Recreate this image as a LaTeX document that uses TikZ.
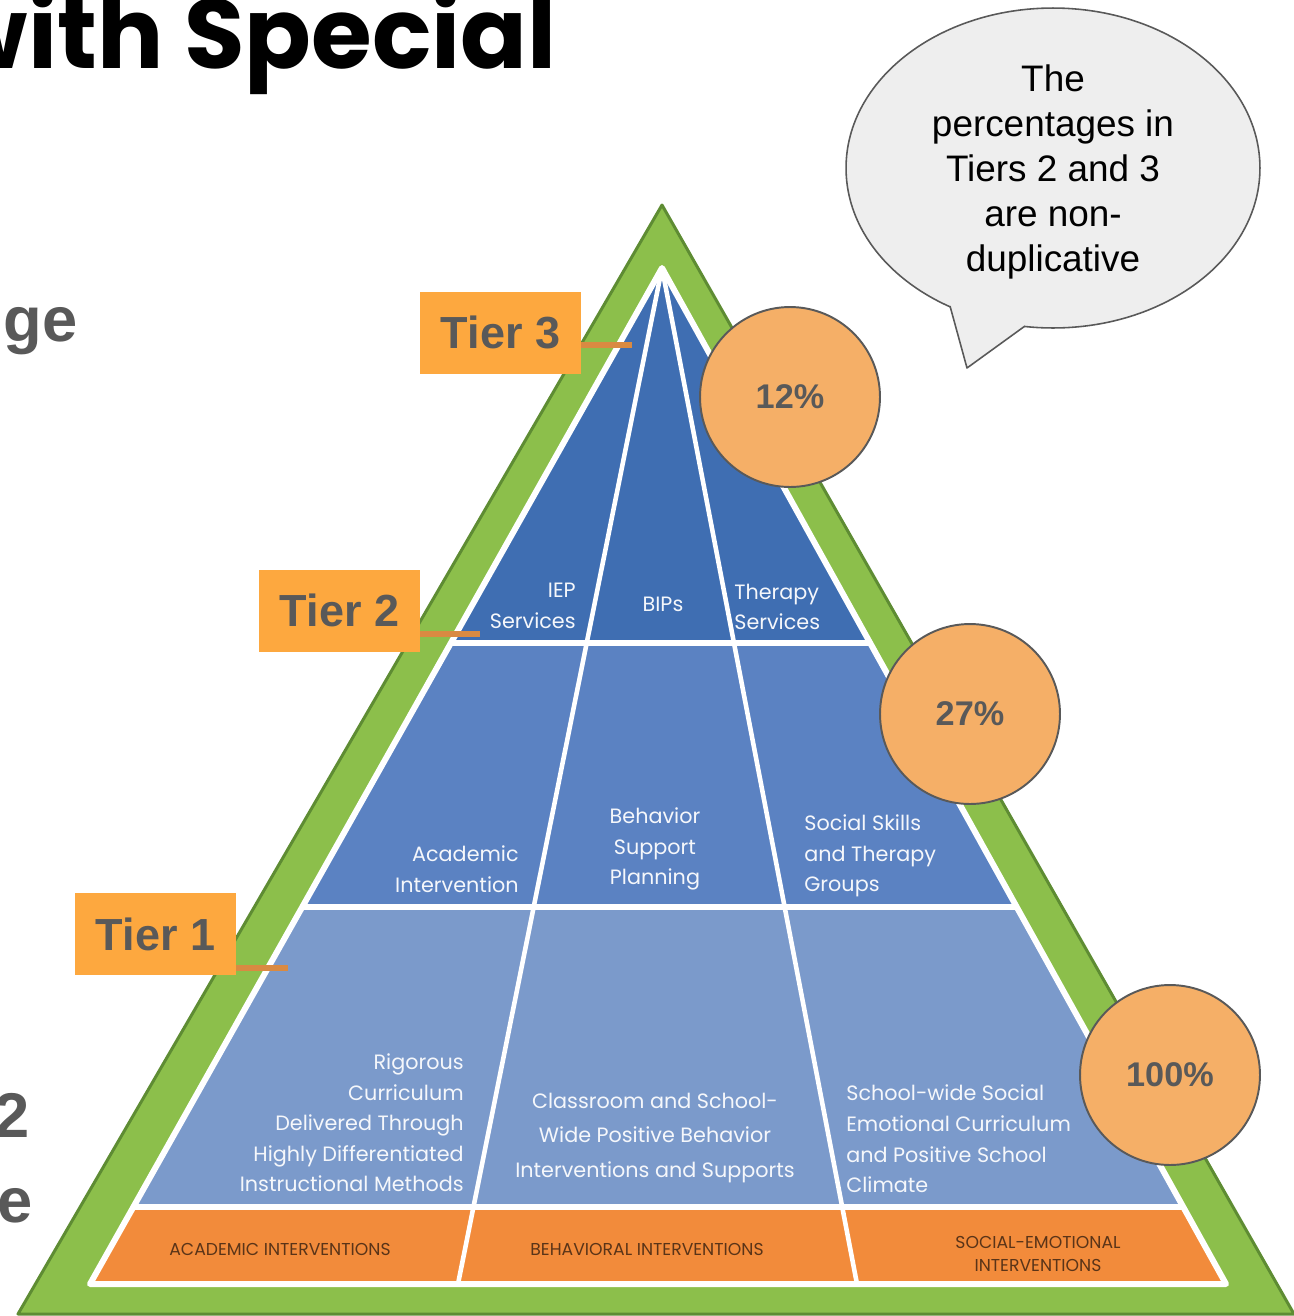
\documentclass[tikz,border=0pt]{standalone}
\usepackage{fontspec}
\setmainfont{Liberation Sans}
\newfontfamily\poppins{Poppins}
\usetikzlibrary{shapes.geometric}
\definecolor{grn}{HTML}{8CBF4B}
\definecolor{grnD}{HTML}{5E8C33}
\definecolor{blueA}{HTML}{3F6EB2}
\definecolor{blueB}{HTML}{5B82C2}
\definecolor{blueC}{HTML}{7B9ACB}
\definecolor{band}{HTML}{F28B3B}
\definecolor{tierfill}{HTML}{FDA83F}
\definecolor{txtgray}{HTML}{595959}
\definecolor{circfill}{HTML}{F5AF67}
\definecolor{bubblefill}{HTML}{EEEEEE}
\definecolor{stub}{HTML}{D98A42}
\definecolor{bandtext}{HTML}{5A3418}
\begin{document}
\begin{tikzpicture}[x=0.02cm,y=-0.02cm,
  tierbox/.style={fill=tierfill, minimum width=3.22cm, minimum height=1.64cm, inner sep=0pt,
    font=\fontsize{25.6}{30}\selectfont\bfseries, text=txtgray},
  pct/.style={circle, draw=txtgray, line width=1.1pt, fill=circfill, minimum size=3.6cm, inner sep=0pt,
    font=\fontsize{19.5}{24}\selectfont\bfseries, text=txtgray},
  pyr/.style={text=white!92!blueC, font=\poppins\fontsize{11.8}{17.4}\selectfont, inner sep=0pt},
  bandtxt/.style={text=bandtext, font=\poppins\fontsize{9.8}{13}\selectfont, inner sep=0pt, align=center},
  stubline/.style={draw=stub, line width=3pt},
  cuttext/.style={anchor=base east, inner sep=0pt, text=txtgray, font=\bfseries\fontsize{36}{40}\selectfont},
]
\useasboundingbox (0,0) rectangle (1294,1316);
\clip (0,0) rectangle (1294,1316);

% title and cut-off slide text
\node[anchor=base east, inner sep=0pt, font=\poppins\bfseries\fontsize{56}{60}\selectfont] (title) at (557,68) {with Special};
\node[cuttext] (ge) at (78,341) {ge};
\node[cuttext] (two) at (30,1137) {2};
\node[cuttext] (ee) at (33,1222) {e};

% green frame
\fill[grn, draw=grnD, line width=1.7pt, line join=round] (662,205) -- (1294,1314) -- (18,1314) -- cycle;

% inner pyramid
\coordinate (A) at (662,268);
\coordinate (BL) at (90,1284);
\coordinate (BR) at (1226,1284);
\coordinate (DL) at (458,1284);
\coordinate (DR) at (857,1284);
\begin{scope}
\clip (A) -- (BR) -- (BL) -- cycle;
\fill[blueA] (0,200) rectangle (1294,643);
\fill[blueB] (0,643) rectangle (1294,907);
\fill[blueC] (0,907) rectangle (1294,1207);
\fill[band] (0,1207) rectangle (1294,1290);
\draw[white, line width=3pt] (0,643) -- (1294,643) (0,907) -- (1294,907) (0,1207) -- (1294,1207);
\draw[white, line width=2.6pt] (A) -- (DL) (A) -- (DR);
\end{scope}
\draw[white, line width=3.4pt, line join=round] (A) -- (BR) -- (BL) -- cycle;

% pyramid texts
\node[pyr, align=right, anchor=east] (iep) at (576,606) {IEP\\Services};
\node[pyr] (bips) at (663,604) {BIPs};
\node[pyr, align=left, anchor=west] (ther) at (734,607) {Therapy\\Services};
\node[pyr, align=right, anchor=east] (acad) at (519,869) {Academic\\Intervention};
\node[pyr, align=center] (bsp) at (655,849) {Behavior\\Support\\Planning};
\node[pyr, align=left, anchor=west] (ssk) at (804,856) {Social Skills\\and Therapy\\Groups};
\node[pyr, align=right, anchor=east] (rig) at (464,1123) {Rigorous\\Curriculum\\Delivered Through\\Highly Differentiated\\Instructional Methods};
\node[pyr, align=center, font=\poppins\fontsize{11.8}{19.4}\selectfont] (cls) at (655,1138) {Classroom and School-\\Wide Positive Behavior\\Interventions and Supports};
\node[pyr, align=left, anchor=west] (sws) at (846,1139) {School-wide Social\\Emotional Curriculum\\and Positive School\\Climate};
\node[bandtxt] (bacad) at (280,1249) {ACADEMIC INTERVENTIONS};
\node[bandtxt] (bbeh) at (647,1249) {BEHAVIORAL INTERVENTIONS};
\node[bandtxt] (bsoc) at (1038,1254) {SOCIAL-EMOTIONAL\\INTERVENTIONS};

% tier labels
\node[tierbox] (t3) at (500.5,332.5) {Tier 3};
\node[tierbox] (t2) at (339.5,610.5) {Tier 2};
\node[tierbox] (t1) at (155.5,934) {Tier 1};
\coordinate (s3) at (632,345);
\coordinate (s2) at (480,634);
\coordinate (s1) at (288,968);
\draw[stubline] (t3.east |- s3) -- (s3);
\draw[stubline] (t2.east |- s2) -- (s2);
\draw[stubline] (t1.east |- s1) -- (s1);

% percentage circles
\node[pct] (c12) at (790,397) {12\%};
\node[pct] (c27) at (970,714) {27\%};
\node[pct] (c100) at (1170,1075) {100\%};

% speech bubble
\node[ellipse, draw=txtgray, fill=bubblefill, line width=0.9pt, minimum width=8.28cm, minimum height=6.4cm, inner sep=0pt] (bub) at (1053,168) {};
\coordinate (tl) at (950,306);
\coordinate (tip) at (967,368);
\coordinate (tr) at (1025,326);
\fill[bubblefill] (tl) -- (tip) -- (tr) -- (1025,312) -- (950,292) -- cycle;
\draw[txtgray, line width=0.9pt, line join=round] (tl) -- (tip) -- (tr);
\node[align=center, inner sep=0pt, font=\fontsize{21}{25.6}\selectfont] (bubtext) at (1053,172) {The\\percentages in\\Tiers 2 and 3\\are non-\\duplicative};
\end{tikzpicture}
\end{document}
